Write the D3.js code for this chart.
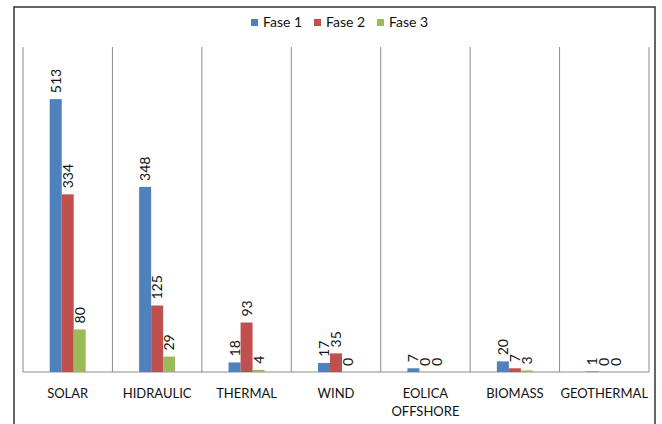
<!DOCTYPE html>
<html><head><meta charset="utf-8">
<script src="https://cdn.jsdelivr.net/npm/d3@7"></script>
<style>body{margin:0;background:#fff}svg{display:block;font-family:Lato,"Open Sans",sans-serif}</style>
</head><body><div id="c"></div>
<script>
const categories = ["SOLAR","HIDRAULIC","THERMAL","WIND","EOLICA OFFSHORE","BIOMASS","GEOTHERMAL"];
const seriesNames = ["Fase 1","Fase 2","Fase 3"];
const fase1 = [513,348,18,17,7,20,1];
const fase2 = [334,125,93,35,0,7,0];
const fase3 = [80,29,4,0,0,3,0];
const colors = ["#4F81BD","#C0504D","#9BBB59"];

const W=662,H=424;
const svg=d3.select("#c").append("svg").attr("width",W).attr("height",H);
const m={l:23,r:13,t:47,b:52};
const x=d3.scaleBand().domain(categories).range([m.l,W-m.r]);
const y=d3.scaleLinear().domain([0,611]).range([372,47]);
const series=[fase1,fase2,fase3];
const bw=12;
const xs=d3.scaleBand().domain(seriesNames).range([0,bw*3]);

// outer border
svg.append("path").attr("d",`M14,${H+2}V7H655V${H+2}`).attr("fill","none").attr("stroke","#333").attr("stroke-width",1.5);

// vertical gridlines
const edges=categories.map(c=>x(c)).concat([x.range()[1]]);
svg.selectAll("line.g").data(edges).join("line")
 .attr("x1",d=>d).attr("x2",d=>d).attr("y1",47).attr("y2",372)
 .attr("stroke","#8c8c8c").attr("stroke-width",1);
svg.append("line").attr("x1",m.l).attr("x2",W-m.r).attr("y1",372).attr("y2",372).attr("stroke","#8c8c8c");

series.forEach((vals,si)=>{
  const g=svg.append("g");
  g.selectAll("rect").data(vals).join("rect")
   .attr("x",(d,i)=>x(categories[i])+x.bandwidth()/2-bw*1.5+xs(seriesNames[si]))
   .attr("width",bw)
   .attr("y",d=>y(d)).attr("height",d=>y(0)-y(d))
   .attr("fill",colors[si]);
  g.selectAll("text").data(vals).join("text")
   .attr("transform",(d,i)=>{
     const cx=x(categories[i])+x.bandwidth()/2-bw*1.5+xs(seriesNames[si])+bw/2+5;
     return `translate(${cx},${y(d)-6}) rotate(-90)`;})
   .attr("font-size",14).attr("fill","#111").text(d=>d);
});

// category labels
categories.forEach(c=>{
  const words=c==="EOLICA OFFSHORE"?["EOLICA","OFFSHORE"]:[c];
  words.forEach((w,k)=>{
    svg.append("text").attr("x",x(c)+x.bandwidth()/2).attr("y",398+k*18)
     .attr("text-anchor","middle").attr("font-size",13).attr("fill","#111").text(w);
  });
});

// legend
const lx=[251,314,377];
seriesNames.forEach((n,i)=>{
  svg.append("rect").attr("x",lx[i]).attr("y",19).attr("width",7).attr("height",7).attr("fill",colors[i]);
  svg.append("text").attr("x",lx[i]+12).attr("y",27).attr("font-size",14).attr("fill","#111").text(n);
});
</script></body></html>
